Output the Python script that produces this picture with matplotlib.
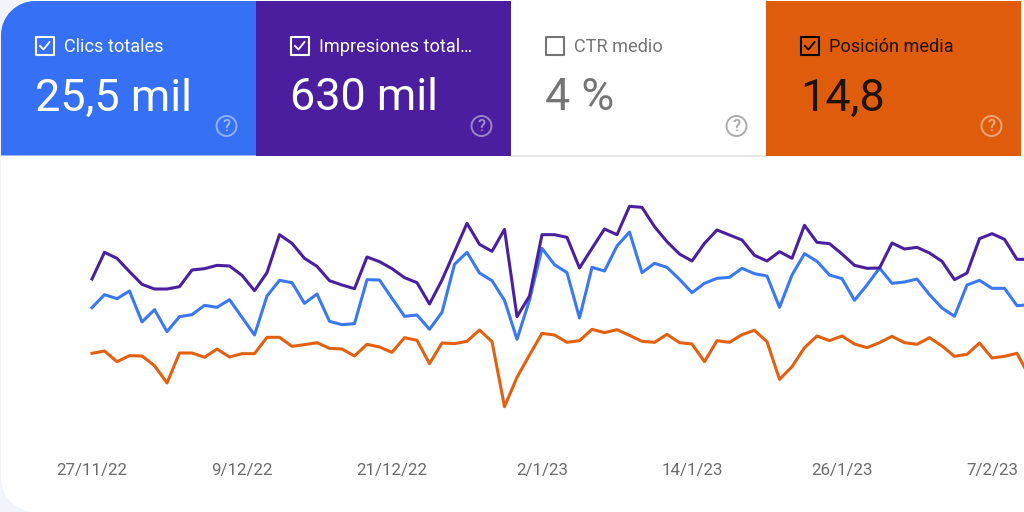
import matplotlib
matplotlib.use("Agg")
import matplotlib.pyplot as plt
import matplotlib.dates as mdates
from matplotlib.patches import Rectangle, Circle, PathPatch
from matplotlib.path import Path
import pandas as pd

plt.rcParams['font.family'] = ['Roboto', 'DejaVu Sans']

start_date = "2022-11-27"
impresiones = [393,473,455,415,377,363,363,370,420,424,
               434,432,404,358,412,526,500,455,431,388,
               375,364,459,445,424,397,382,318,390,475,
               560,497,476,542,280,342,526,526,518,426,
               485,543,526,611,608,550,505,468,447,500,
               540,525,510,464,447,475,455,554,503,499,
               468,434,425,426,501,483,488,471,446,391,
               411,514,529,512,452,452]
clics = [307,346,334,357,264,301,235,280,286,314,
         308,331,278,225,342,389,382,320,348,266,
         256,259,391,390,335,281,285,242,293,437,
         473,411,388,329,212,330,485,436,412,276,
         428,417,492,534,412,440,428,392,352,380,
         395,398,425,409,402,308,405,469,446,405,
         394,329,375,426,380,384,393,346,306,281,
         375,389,365,365,313,316]
posicion = [170,177,145,163,162,133,81,171,171,158,
            183,159,169,169,218,218,191,196,202,185,
            183,162,197,189,173,217,209,139,201,199,
            206,240,205,10,98,165,230,225,203,208,
            242,232,241,224,206,203,227,202,198,145,
            208,203,226,239,205,92,130,187,222,208,
            222,198,187,202,221,202,197,217,192,161,
            167,201,156,161,170,100]
tick_dates = ["2022-11-27","2022-12-09","2022-12-21","2023-01-02","2023-01-14","2023-01-26","2023-02-07"]
tick_labels = ["27/11/22","9/12/22","21/12/22","2/1/23","14/1/23","26/1/23","7/2/23"]
card_titles = ["Clics totales","Impresiones total…","CTR medio","Posición media"]
card_values = ["25,5 mil","630 mil","4 %","14,8"]
card_checked = [True, True, False, True]

C_BLUE, C_PURPLE, C_ORANGE = "#3670f4", "#4a1e9e", "#e05c0d"
L_BLUE, L_PURPLE, L_ORANGE = "#3b78f5", "#4b20a0", "#e2600f"
BG = "#f2f4fc"

fig = plt.figure(figsize=(10.24, 5.12), dpi=100, facecolor=BG)

# page layer in pixel coordinates
pg = fig.add_axes([0, 0, 1, 1])
pg.set_xlim(0, 1024); pg.set_ylim(512, 0); pg.axis("off")

def rounded_panel(x0, y0, x1, y1, rtl, rbl, color, zorder):
    k = 0.45
    verts = [(x0 + rtl, y0), (x1, y0), (x1, y1), (x0 + rbl, y1),
             (x0 + rbl*k, y1), (x0, y1 - rbl*k), (x0, y1 - rbl),
             (x0, y0 + rtl), (x0, y0 + rtl*k), (x0 + rtl*k, y0), (x0 + rtl, y0)]
    codes = [Path.MOVETO, Path.LINETO, Path.LINETO, Path.LINETO,
             Path.CURVE4, Path.CURVE4, Path.CURVE4,
             Path.LINETO, Path.CURVE4, Path.CURVE4, Path.CURVE4]
    pg.add_patch(PathPatch(Path(verts, codes), facecolor=color, edgecolor="none", zorder=zorder))

rounded_panel(1, 0, 1024, 512, 34, 34, "white", 1)

cards = [(1, 256, C_BLUE, "white", "white", "white"),
         (256, 511, C_PURPLE, "white", "white", "white"),
         (511, 766, "white", "#757575", "#757575", "#757575"),
         (766, 1021, C_ORANGE, "#1f1208", "#000000", "white")]
pg.plot([511, 766], [155.5, 155.5], color="#e3e3e3", lw=1.2, zorder=2)
pg.plot([765.5, 765.5], [0, 155], color="#dcdcdc", lw=1, zorder=2)

for i, (x0, x1, face, tc, bc, qc) in enumerate(cards):
    if face != "white":
        if i == 0:
            rounded_panel(x0, 1, x1, 155.5, 34, 0, face, 3)
        else:
            pg.add_patch(Rectangle((x0, 1), x1 - x0, 154.5, facecolor=face, edgecolor="none", zorder=3))
    bx = x0 + 35
    pg.add_patch(Rectangle((bx, 37), 17.5, 17.5, facecolor="none", edgecolor=bc, lw=1.5, zorder=5, joinstyle="round"))
    if card_checked[i]:
        pg.plot([bx + 4, bx + 7.5, bx + 13.5], [46, 49.5, 42], color=bc, lw=1.3, zorder=5)
    pg.text(x0 + 63, 47, card_titles[i], color=tc, fontsize=13.1, va="center", ha="left", zorder=5)
    pg.text(x0 + 34, 110.5, card_values[i], color=tc, fontsize=32.4, va="baseline", ha="left", zorder=5)
    cx = x0 + 225.5
    pg.add_patch(Circle((cx, 126), 10, facecolor="none", edgecolor=qc, lw=1.4, alpha=0.45 if qc == "white" else 0.6, zorder=5))
    pg.text(cx, 126.5, "?", color=qc, alpha=0.5 if qc == "white" else 0.65, fontsize=12, fontweight="medium",
            ha="center", va="center", zorder=5)

# chart layer: axes span pixel rows 190-410
ax = fig.add_axes([0, (512 - 410) / 512, 1, 220 / 512], facecolor="none")
dates = pd.date_range(start_date, periods=len(clics), freq="D")
d0 = mdates.date2num(pd.Timestamp(start_date))
ax.set_xlim(d0 - 92 / 12.5, d0 + (1024 - 92) / 12.5)
ax.set_ylim(0, 660)
for series, col in [(posicion, L_ORANGE), (clics, L_BLUE), (impresiones, L_PURPLE)]:
    ax.plot(dates, series, color=col, lw=2.2, solid_joinstyle="round")
ax.set_yticks([])
ax.set_xticks(pd.to_datetime(tick_dates))
ax.set_xticklabels(tick_labels, fontsize=12.2, color="#6b6b6b")
ax.tick_params(axis="x", length=0, pad=38)
for s in ax.spines.values():
    s.set_visible(False)

fig.savefig("out.png", dpi=100, facecolor=fig.get_facecolor())
